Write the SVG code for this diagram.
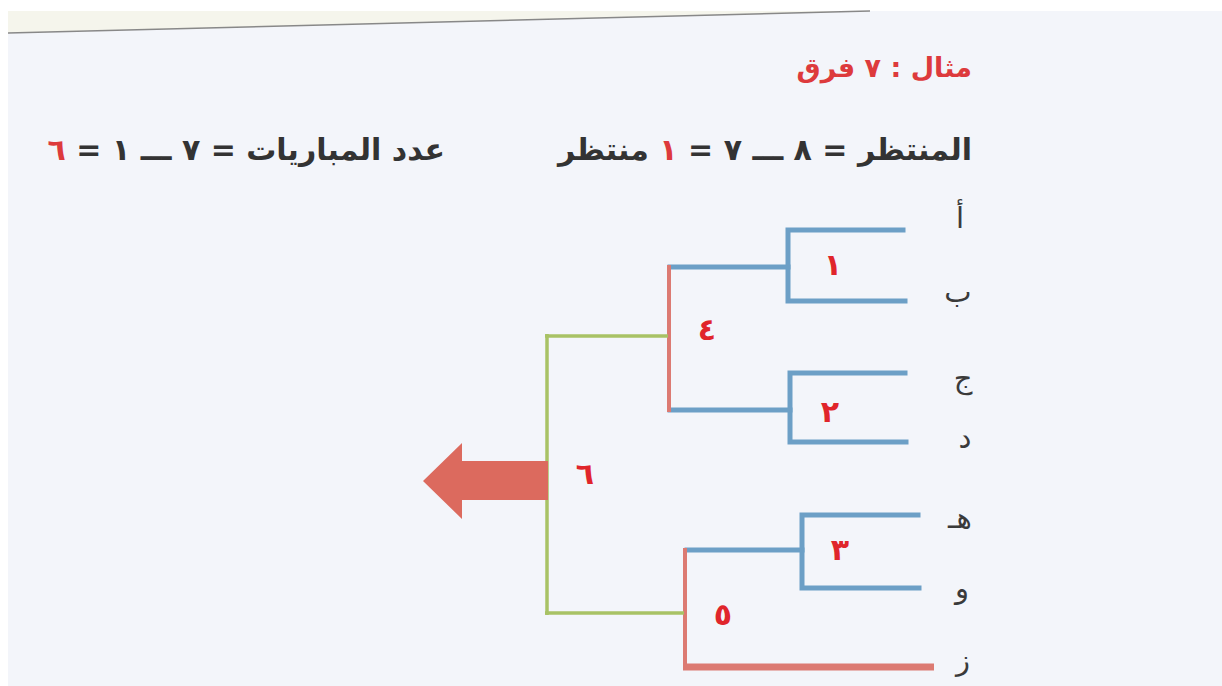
<svg xmlns="http://www.w3.org/2000/svg" width="1222" height="686" viewBox="0 0 1222 686">
<style>
.blue{stroke:#6c9fc6;stroke-width:5;fill:none;stroke-linecap:square}
.red{stroke:#dc7a72;stroke-width:4;fill:none}
.green{stroke:#a8c265;stroke-width:3.5;fill:none}
.num{font-family:"DejaVu Sans",sans-serif;font-size:30px;fill:#e0252b;font-weight:bold}
.team{font-family:"DejaVu Sans",sans-serif;font-size:29px;fill:#3a3a3a}
.hdr{font-family:"DejaVu Sans",sans-serif;font-weight:bold;font-size:30px;fill:#333}
.ttl{font-family:"DejaVu Sans",sans-serif;font-weight:bold;font-size:27px;fill:#dd3a3c}
.rd{fill:#dd3a3c}
</style>
<rect width="1222" height="686" fill="#f3f5fa"/>
<polygon points="8,33 870,11 8,11" fill="#f5f5ec"/>
<rect x="0" y="0" width="1222" height="11" fill="#ffffff"/>
<rect x="0" y="0" width="8" height="686" fill="#ffffff"/>
<line x1="8" y1="33" x2="870" y2="11" stroke="#888" stroke-width="1.5"/>

<g id="title"><text class="ttl" x="972" y="77" direction="rtl" text-anchor="start">مثال : ٧ فرق</text></g>
<g id="formula1"><text class="hdr" x="972" y="160" direction="rtl" text-anchor="start">المنتظر = ٨ ـــ ٧ = <tspan class="rd">١</tspan> منتظر</text></g>
<g id="formula2"><text class="hdr" x="445" y="160" direction="rtl" text-anchor="start">عدد المباريات = ٧ ـــ ١ = <tspan class="rd">٦</tspan></text></g>

<g id="connectors">
<polyline class="blue" points="903,230 788,230 788,301 905,301"/>
<line class="blue" x1="670" y1="267" x2="788" y2="267"/>
<polyline class="blue" points="905,373 790,373 790,442 906,442"/>
<line class="blue" x1="670" y1="410" x2="790" y2="410"/>
<polyline class="blue" points="918,515 802,515 802,588 919,588"/>
<line class="blue" x1="687" y1="550" x2="802" y2="550"/>
<line class="red" x1="669" y1="265" x2="669" y2="412"/>
<line class="red" x1="685" y1="548" x2="685" y2="670"/>
<line x1="683" y1="667" x2="934" y2="667" stroke="#dc7a72" stroke-width="7"/>
<line class="green" x1="545" y1="336" x2="668" y2="336"/>
<line class="green" x1="545" y1="613" x2="684" y2="613"/>
<line class="green" x1="547" y1="334" x2="547" y2="615"/>
</g>

<g id="arrow"><polygon points="548,461 462,461 462,443 423,481 462,519 462,500 548,500" fill="#dc6a5e"/></g>

<g id="match1"><text class="num" x="833" y="275" text-anchor="middle">١</text></g>
<g id="match2"><text class="num" x="830" y="422" text-anchor="middle">٢</text></g>
<g id="match3"><text class="num" x="840" y="560" text-anchor="middle">٣</text></g>
<g id="match4"><text class="num" x="707" y="340" text-anchor="middle">٤</text></g>
<g id="match5"><text class="num" x="723" y="625" text-anchor="middle">٥</text></g>
<g id="match6"><text class="num" x="585" y="484" text-anchor="middle">٦</text></g>

<g id="teamA"><text class="team" x="960" y="228" text-anchor="middle">أ</text></g>
<g id="teamB"><text class="team" x="958" y="302" text-anchor="middle">ب</text></g>
<g id="teamC"><text class="team" x="963" y="388" text-anchor="middle">ج</text></g>
<g id="teamD"><text class="team" x="965" y="448" text-anchor="middle">د</text></g>
<g id="teamE"><text class="team" x="960" y="528" text-anchor="middle">هـ</text></g>
<g id="teamF"><text class="team" x="962" y="598" text-anchor="middle">و</text></g>
<g id="teamG"><text class="team" x="963" y="670" text-anchor="middle">ز</text></g>
</svg>
